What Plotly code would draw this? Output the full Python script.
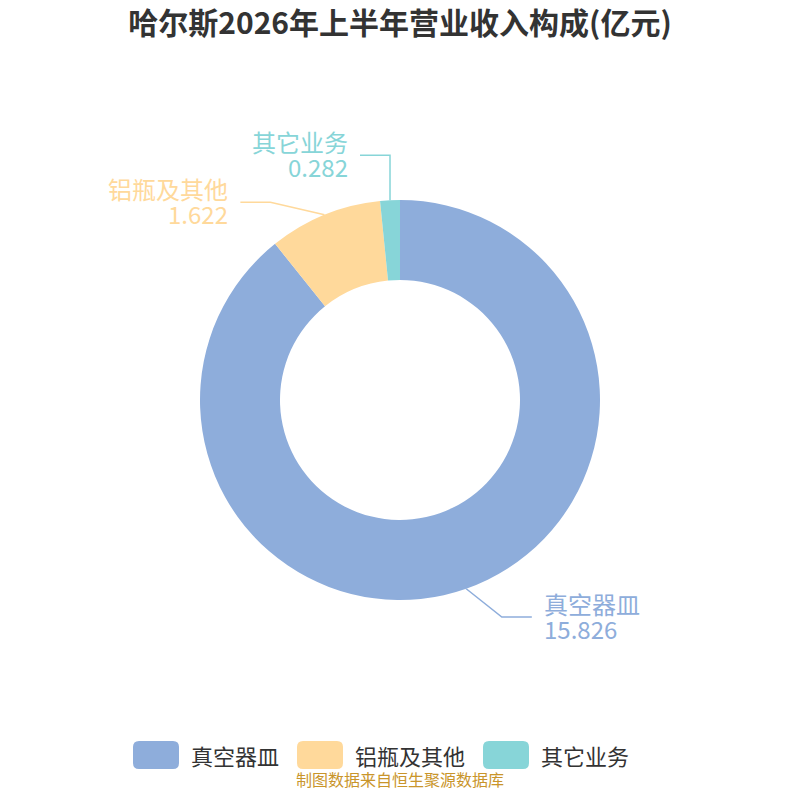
import math
import plotly.graph_objects as go

# data
labels = ["真空器皿", "铝瓶及其他", "其它业务"]
values = [15.826, 1.622, 0.282]
value_text = ["15.826", "1.622", "0.282"]
colors = ["#8eaddb", "#ffd99b", "#87d5d8"]

title = "哈尔斯2026年上半年营业收入构成(亿元)"
source = "制图数据来自恒生聚源数据库"

# page body has an 8px margin, so the figure is 784px and sits at (8, 8)
OFF = 8
W, H = 784, 784
CX, CY, R = 400, 400, 200
R_LABEL = 230    # first guess for label height
R_CURVE = 220    # horizontal radius of the elbow curve
SEG2 = 30
LABEL_H = 47
FONT = "Noto Sans CJK SC"


def px(x):
    return (x - OFF) / W


def py(y):
    return 1 - (y - OFF) / H


fig = go.Figure()
fig.add_trace(go.Pie(
    labels=labels, values=values, hole=0.6, sort=False,
    direction="clockwise", rotation=0, textinfo="none",
    marker=dict(colors=colors, line=dict(width=0)),
    domain=dict(x=[px(CX - R), px(CX + R)], y=[py(CY + R), py(CY - R)]),
    showlegend=False, hoverinfo="label+value",
))

# label layout (leader lines), computed from slice angles
total = sum(values)
acc = 0
items = []
for i, v in enumerate(values):
    mid = (acc + v / 2) / total * 2 * math.pi
    acc += v
    dx, dy = math.sin(mid), -math.cos(mid)
    items.append(dict(i=i, ex=CX + R * dx, ey=CY + R * dy,
                      ly=CY + R_LABEL * dy, side=1 if dx >= 0 else -1))

# spread overlapping labels on each side symmetrically
for side in (1, -1):
    grp = sorted([it for it in items if it["side"] == side], key=lambda t: t["ly"])
    for a, b in zip(grp, grp[1:]):
        gap = b["ly"] - a["ly"]
        if gap < LABEL_H:
            mid_y = (a["ly"] + b["ly"]) / 2
            a["ly"] = mid_y - LABEL_H / 2
            b["ly"] = mid_y + LABEL_H / 2

rb = max(abs(it["ly"] - CY) for it in items)

shapes = []
annotations = []
for it in items:
    i, s = it["i"], it["side"]
    ddy = it["ly"] - CY
    lx = CX + s * R_CURVE * math.sqrt(max(1 - (ddy / rb) ** 2, 0))
    lx = max(lx, it["ex"]) if s > 0 else min(lx, it["ex"])
    ex2 = lx + s * SEG2
    shapes.append(dict(
        type="path", xref="paper", yref="paper",
        path=f"M {px(it['ex'])} {py(it['ey'])} L {px(lx)} {py(it['ly'])} L {px(ex2)} {py(it['ly'])}",
        line=dict(color=colors[i], width=1.5),
    ))
    anchor = "left" if s > 0 else "right"
    tx = ex2 + s * 10
    annotations.append(dict(x=px(tx), y=py(it["ly"] - 14), xref="paper", yref="paper",
                            text=labels[i], showarrow=False, xanchor=anchor, yanchor="middle",
                            font=dict(size=24, color=colors[i], family=FONT)))
    annotations.append(dict(x=px(tx), y=py(it["ly"] + 11), xref="paper", yref="paper",
                            text=value_text[i], showarrow=False, xanchor=anchor, yanchor="middle",
                            font=dict(size=24, color=colors[i], family=FONT)))

# custom legend with rounded swatches
LEG_Y, SW_W, SW_H, RAD, LEG_FS = 755, 46, 28, 6, 22
x = 133
for i, lab in enumerate(labels):
    x0, x1 = x, x + SW_W
    y0, y1 = LEG_Y - SW_H / 2, LEG_Y + SW_H / 2
    p = (f"M {px(x0 + RAD)} {py(y0)} L {px(x1 - RAD)} {py(y0)} "
         f"Q {px(x1)} {py(y0)} {px(x1)} {py(y0 + RAD)} L {px(x1)} {py(y1 - RAD)} "
         f"Q {px(x1)} {py(y1)} {px(x1 - RAD)} {py(y1)} L {px(x0 + RAD)} {py(y1)} "
         f"Q {px(x0)} {py(y1)} {px(x0)} {py(y1 - RAD)} L {px(x0)} {py(y0 + RAD)} "
         f"Q {px(x0)} {py(y0)} {px(x0 + RAD)} {py(y0)} Z")
    shapes.append(dict(type="path", xref="paper", yref="paper", path=p,
                       fillcolor=colors[i], line=dict(width=0)))
    annotations.append(dict(x=px(x1 + 10), y=py(LEG_Y), xref="paper", yref="paper",
                            text=lab, showarrow=False, xanchor="left", yanchor="middle",
                            font=dict(size=LEG_FS, color="#333333", family=FONT)))
    x = x1 + 10 + LEG_FS * len(lab) + 20

annotations.append(dict(x=px(400), y=0, xref="paper", yref="paper", text=source,
                        showarrow=False, xanchor="center", yanchor="bottom",
                        borderpad=0, font=dict(size=16, color="#c9952b", family=FONT)))

fig.update_layout(
    width=W, height=H,
    margin=dict(l=0, r=0, t=0, b=0),
    paper_bgcolor="white", plot_bgcolor="white",
    title=dict(text=f"<b>{title}</b>", x=px(400), xanchor="center", y=py(23), yanchor="middle",
               font=dict(size=30, color="#333333", family=FONT)),
    shapes=shapes, annotations=annotations,
)

fig.write_html("out.html")
